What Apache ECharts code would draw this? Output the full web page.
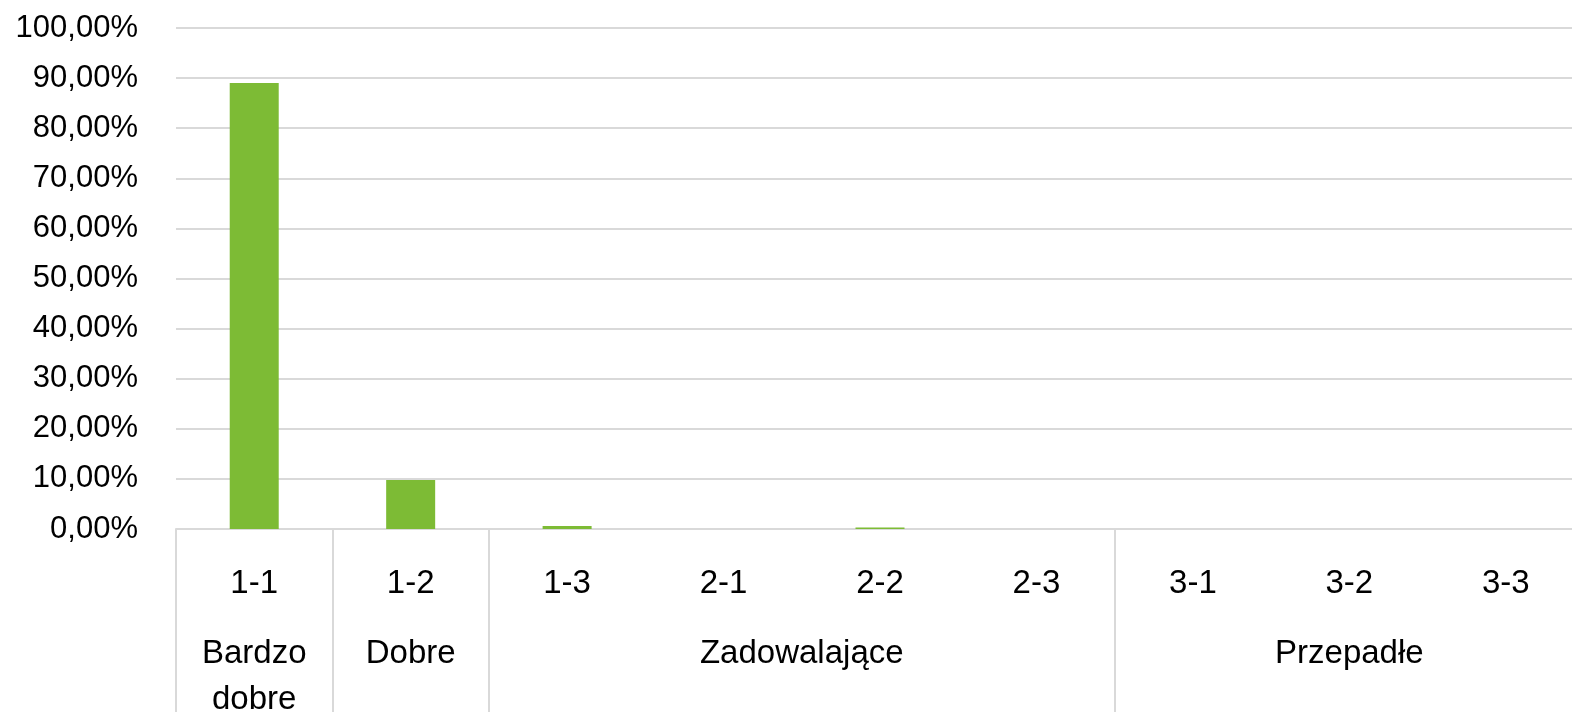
<!DOCTYPE html>
<html><head><meta charset="utf-8">
<script src="https://cdn.jsdelivr.net/npm/echarts@6/dist/echarts.min.js"></script>
<style>html,body{margin:0;padding:0;background:#fff}#c{width:1572px;height:712px}</style>
</head><body><div id="c"></div>
<script>
const categories = ['1-1','1-2','1-3','2-1','2-2','2-3','3-1','3-2','3-3'];
const values = [89.0, 9.8, 0.6, 0, 0.3, 0, 0, 0, 0];
const groupNames = ['Bardzo\ndobre','Dobre','Zadowalające','Przepadłe'];
const groupSpans = [1, 1, 4, 3];
const yTicks = [0,10,20,30,40,50,60,70,80,90,100];

// Build half-step boundary axis for group labels & separators
const n = categories.length;
const half = new Array(2*n+1).fill('');
const boundaryIdx = new Set([0]);
let pos = 0;
groupNames.forEach((g,i)=>{
  const center = pos + groupSpans[i]/2;
  half[Math.round(center*2)] = g;
  pos += groupSpans[i];
  boundaryIdx.add(pos*2);
});

const FONT = 'Liberation Sans';
const chart = echarts.init(document.getElementById('c'));
chart.setOption({
  animation:false,
  grid:{left:176, top:28, width:1408, height:501, outerBoundsMode:'none', containLabel:false},
  xAxis:[{
    type:'category', data:categories, position:'bottom',
    axisLine:{show:true, lineStyle:{color:'#d9d9d9', width:2}},
    axisTick:{show:false},
    axisLabel:{color:'#000', fontFamily:FONT, fontSize:33, margin:38}
  },{
    type:'category', data:half, position:'bottom', boundaryGap:false,
    axisLine:{show:false},
    axisTick:{show:true, length:190, interval:(i)=>boundaryIdx.has(i), lineStyle:{color:'#d9d9d9', width:2}},
    axisLabel:{color:'#000', fontFamily:FONT, fontSize:33, margin:102, lineHeight:46, interval:0}
  }],
  yAxis:{
    type:'value', min:0, max:100, interval:10,
    axisLine:{show:false}, axisTick:{show:false},
    splitLine:{lineStyle:{color:'#d9d9d9', width:2}},
    axisLabel:{color:'#000', fontFamily:FONT, fontSize:31, margin:38,
      formatter:(v)=>v.toFixed(2).replace('.',',')+'%'}
  },
  series:[{
    type:'bar', data:values, xAxisIndex:0, barWidth:49,
    itemStyle:{color:'#7dbb35'}
  }]
});
</script></body></html>
